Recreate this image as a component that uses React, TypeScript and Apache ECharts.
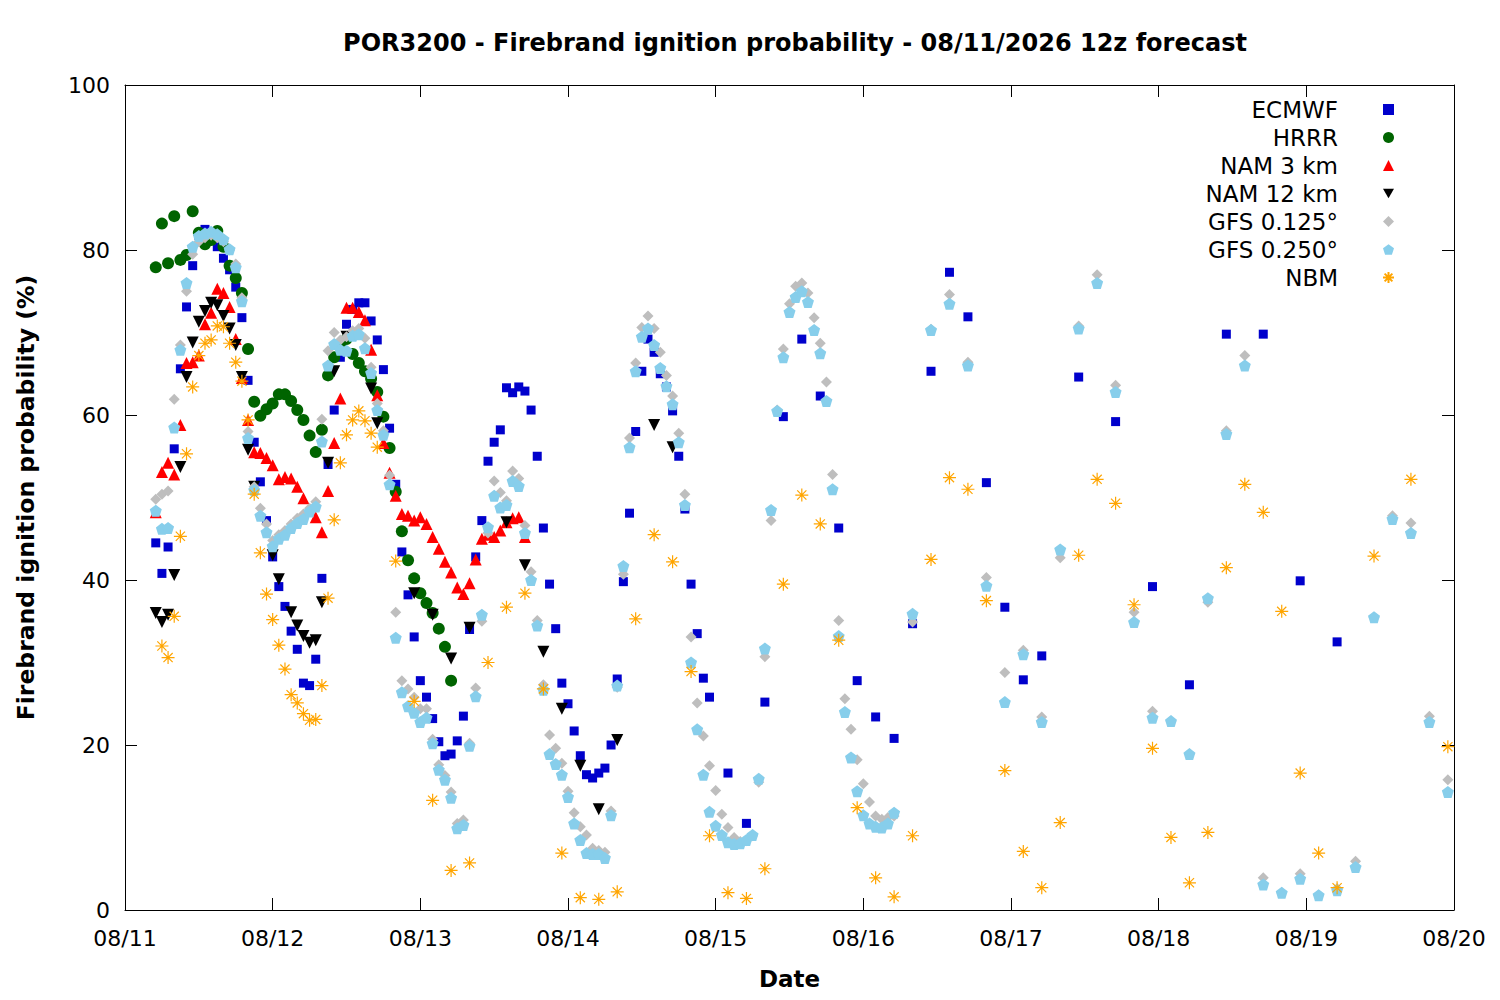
import React, { useEffect, useRef } from 'react';
import * as echarts from 'echarts';

// x = hours since 08/11 00z, y = probability (%)
const dayLabels = ['08/11', '08/12', '08/13', '08/14', '08/15', '08/16', '08/17', '08/18', '08/19', '08/20'];

const ecmwf = [
  [5, 44.5], [6, 40.8], [7, 44], [8, 55.9], [9, 65.6], [10, 73.1], [11, 78.1], [12, 81.8], [13, 82.5], [14, 82],
  [15, 80.4], [16, 79], [17, 77.6], [18, 75.5], [19, 71.8], [20, 64.2], [21, 56.7], [22, 51.9], [23, 47.2], [24, 42.8],
  [25, 39.2], [26, 36.8], [27, 33.8], [28, 31.6], [29, 27.5], [30, 27.2], [31, 30.4], [32, 40.2], [33, 54], [34, 60.6],
  [35, 67], [36, 71], [37, 72.8], [38, 73.6], [39, 73.6], [40, 71.4], [41, 69.1], [42, 65.5], [43, 58.4], [44, 51.6],
  [45, 43.4], [46, 38.2], [47, 33.1], [48, 27.8], [49, 25.8], [50, 23.2], [51, 20.4], [52, 18.7], [53, 18.9], [54, 20.5],
  [55, 23.5], [56, 34], [57, 42.8], [58, 47.2], [59, 54.4], [60, 56.7], [61, 58.2], [62, 63.3], [63, 62.7], [64, 63.4],
  [65, 62.9], [66, 60.6], [67, 55], [68, 46.3], [69, 39.5], [70, 34.1], [71, 27.5], [72, 25], [73, 21.7], [74, 18.7],
  [75, 16.4], [76, 16], [77, 16.6], [78, 17.2], [79, 20], [80, 28], [81, 39.8], [82, 48.1], [83, 58], [84, 65.3],
  [85, 69.2], [86, 67.6], [87, 65], [88, 63.4], [89, 60.5], [90, 55], [91, 48.6], [92, 39.5], [93, 33.5], [94, 28.1],
  [95, 25.8], [98, 16.6], [101, 10.5], [104, 25.2], [107, 59.8], [110, 69.2], [113, 62.3], [116, 46.3], [119, 27.8],
  [122, 23.4], [125, 20.8], [128, 34.7], [131, 65.3], [134, 77.3], [137, 71.9], [140, 51.8], [143, 36.7], [146, 27.9],
  [149, 30.8], [155, 64.6], [161, 59.2], [167, 39.2], [173, 27.3], [179, 69.8], [185, 69.8], [191, 39.9], [197, 32.5],
];

const hrrr = [
  [5, 77.9], [6, 83.2], [7, 78.4], [8, 84.1], [9, 78.8], [10, 79.4], [11, 84.7], [12, 82.1], [13, 80.7], [14, 81.2],
  [15, 82.3], [16, 80.4], [17, 78.1], [18, 76.6], [19, 74.8], [20, 68], [21, 61.6], [22, 59.9], [23, 60.7], [24, 61.4],
  [25, 62.5], [26, 62.5], [27, 61.7], [28, 60.6], [29, 59.4], [30, 57.5], [31, 55.5], [32, 58.2], [33, 64.8], [34, 67],
  [35, 68.5], [36, 69.2], [37, 67.4], [38, 66.3], [39, 65.3], [40, 64.4], [41, 62.8], [42, 59.8], [43, 56], [44, 50.7],
  [45, 45.9], [46, 42.4], [47, 40.2], [48, 38.4], [49, 37.2], [50, 36], [51, 34.1], [52, 31.9], [53, 27.8],
];

const nam3 = [
  [5, 48.2], [6, 53.1], [7, 54.2], [8, 52.8], [9, 58.8], [10, 66.3], [11, 66.4], [12, 67.2], [13, 71], [14, 72.4],
  [15, 75.3], [16, 74.8], [17, 73.1], [18, 69.2], [19, 64.5], [20, 59.4], [21, 55.5], [22, 55.4], [23, 54.8], [24, 53.9],
  [25, 52.2], [26, 52.5], [27, 52.3], [28, 51.3], [29, 49.9], [30, 48.5], [31, 47.6], [32, 45.8], [33, 50.8], [34, 56.6],
  [35, 62], [36, 73], [37, 73], [38, 72.5], [39, 71.5], [40, 67.9], [41, 62.4], [42, 56.6], [43, 53], [44, 50.2],
  [45, 48], [46, 47.8], [47, 47.2], [48, 47.6], [49, 46.8], [50, 45.2], [51, 43.8], [52, 42.2], [53, 40.9], [54, 39.1],
  [55, 38.3], [56, 39.6], [57, 42.5], [58, 45], [59, 45.5], [60, 45.2], [61, 46], [62, 47], [63, 47.5], [64, 47.6],
  [65, 45.2],
];

const nam12 = [
  [5, 36], [6, 34.9], [7, 35.8], [8, 40.6], [9, 53.7], [10, 64.6], [11, 68.8], [12, 71.3], [13, 72.6], [14, 73.6],
  [15, 73.3], [16, 72], [17, 70.5], [18, 68.5], [19, 64.6], [20, 55.8], [21, 51.3], [24, 43], [25, 40.1], [27, 36.1],
  [28, 34.5], [29, 33.2], [30, 32.4], [31, 32.7], [32, 37.3], [33, 54.2], [34, 65.3], [36, 69.5], [40, 63.2], [41, 59],
  [47, 38.4], [50, 35.8], [53, 30.5], [56, 34.2], [62, 47], [65, 41.8], [68, 31.3], [71, 24.4], [74, 17.5], [77, 12.2],
  [80, 20.6], [86, 58.8], [89, 56.1],
];

const gfs0125 = [
  [5, 49.8], [6, 50.4], [7, 50.8], [8, 61.9], [9, 68.5], [10, 75], [11, 79.5], [12, 81], [13, 81.5], [14, 81.8],
  [15, 81.5], [16, 81], [17, 80], [18, 78.3], [19, 74.2], [20, 58], [21, 51.3], [22, 48.7], [23, 46.8], [24, 44.8],
  [25, 45.5], [26, 46], [27, 46.8], [28, 47.5], [29, 48], [30, 48.7], [31, 49.5], [32, 59.5], [33, 67.8], [34, 70],
  [35, 69.1], [36, 69.5], [37, 70.2], [38, 70.5], [39, 69.3], [40, 65.8], [41, 61.4], [42, 58.1], [43, 52.7], [44, 36.1],
  [45, 27.8], [46, 26.8], [47, 25.8], [48, 24.4], [49, 24.4], [50, 20.7], [51, 17.6], [52, 16.3], [53, 14.3], [54, 10.5],
  [55, 10.9], [56, 20.2], [57, 26.9], [58, 35], [59, 45.7], [60, 52], [61, 50.6], [62, 49.6], [63, 53.2], [64, 52.3],
  [65, 46.6], [66, 41], [67, 35.1], [68, 27.3], [69, 21.2], [70, 19.6], [71, 17.8], [72, 14.4], [73, 11.8], [74, 10.1],
  [75, 9.1], [76, 7.5], [77, 7.2], [78, 7], [79, 12], [80, 27], [81, 40.7], [82, 57.2], [83, 66.3], [84, 70.6],
  [85, 72], [86, 70.5], [87, 67.6], [88, 64.8], [89, 62.3], [90, 57.8], [91, 50.4], [92, 33.1], [93, 25.1], [94, 21.1],
  [95, 17.5], [96, 14.5], [97, 11.6], [98, 10], [99, 8.8], [100, 8.3], [101, 8.4], [102, 9], [103, 15.5], [104, 30.7],
  [105, 47.2], [106, 60.6], [107, 68], [108, 73.5], [109, 75.6], [110, 76], [111, 74.8], [112, 71.8], [113, 68.7], [114, 64],
  [115, 52.8], [116, 35.1], [117, 25.6], [118, 21.9], [119, 18.2], [120, 15.3], [121, 13.1], [122, 11.4], [123, 11], [124, 11.2],
  [125, 11.4], [128, 34.9], [131, 70.4], [134, 74.6], [137, 66.4], [140, 40.3], [143, 28.8], [146, 31.5], [149, 23.4], [152, 42.7],
  [155, 70.8], [158, 77], [161, 63.6], [164, 36.1], [167, 24.1], [170, 22.9], [173, 18.9], [176, 37.3], [179, 58.1], [182, 67.2],
  [185, 3.9], [188, 2.1], [191, 4.4], [194, 1.8], [197, 2.6], [200, 5.9], [203, 35.5], [206, 47.8], [209, 46.9], [212, 23.5],
  [215, 15.8],
];

const gfs0250 = [
  [5, 48.4], [6, 46.2], [7, 46.3], [8, 58.5], [9, 67.9], [10, 76], [11, 80.4], [12, 81.7], [13, 82], [14, 82.2],
  [15, 81.9], [16, 81.3], [17, 80.1], [18, 77.9], [19, 73.8], [20, 57.2], [21, 50.9], [22, 47.8], [23, 45.8], [24, 44.1],
  [25, 45], [26, 45.5], [27, 46.3], [28, 46.9], [29, 47.4], [30, 48.3], [31, 48.9], [32, 56.8], [33, 66], [34, 68.6],
  [35, 67.9], [36, 67.8], [37, 69.6], [38, 69.8], [39, 68.1], [40, 65.1], [41, 60.6], [42, 57.6], [43, 51.6], [44, 33],
  [45, 26.4], [46, 24.7], [47, 23.9], [48, 22.8], [49, 23.3], [50, 20.2], [51, 17], [52, 15.8], [53, 13.6], [54, 9.9],
  [55, 10.3], [56, 19.9], [57, 25.9], [58, 35.8], [59, 46.4], [60, 50.2], [61, 48.8], [62, 49.1], [63, 52], [64, 51.4],
  [65, 45.7], [66, 40], [67, 34.5], [68, 26.7], [69, 18.9], [70, 17.7], [71, 16.4], [72, 13.7], [73, 10.5], [74, 8.5],
  [75, 6.9], [76, 6.8], [77, 6.8], [78, 6.3], [79, 11.5], [80, 27.2], [81, 41.7], [82, 56.1], [83, 65.3], [84, 69.5],
  [85, 70.5], [86, 68.5], [87, 65.7], [88, 63.5], [89, 61.3], [90, 56.7], [91, 49.1], [92, 30], [93, 21.9], [94, 16.4],
  [95, 11.9], [96, 10.2], [97, 9.1], [98, 8.2], [99, 8], [100, 8.1], [101, 8.5], [102, 9.1], [103, 15.9], [104, 31.7],
  [105, 48.5], [106, 60.5], [107, 67], [108, 72.5], [109, 74.3], [110, 75], [111, 73.7], [112, 70.3], [113, 67.5], [114, 61.7],
  [115, 51], [116, 33.2], [117, 24], [118, 18.5], [119, 14.4], [120, 11.5], [121, 10.5], [122, 10.1], [123, 10], [124, 10.5],
  [125, 11.8], [128, 35.9], [131, 70.3], [134, 73.5], [137, 66], [140, 39.3], [143, 25.2], [146, 31], [149, 22.8], [152, 43.7],
  [155, 70.5], [158, 76], [161, 62.8], [164, 34.9], [167, 23.3], [170, 22.9], [173, 18.9], [176, 37.8], [179, 57.7], [182, 66],
  [185, 3.1], [188, 2.1], [191, 3.8], [194, 1.8], [197, 2.4], [200, 5.2], [203, 35.5], [206, 47.4], [209, 45.7], [212, 22.8],
  [215, 14.3],
];

const nbm = [
  [6, 32], [7, 30.6], [8, 35.6], [9, 45.3], [10, 55.3], [11, 63.4], [12, 67.2], [13, 68.7], [14, 69.1], [15, 70.8],
  [16, 70.7], [17, 68.7], [18, 66.4], [19, 64.1], [20, 59.4], [21, 50.4], [22, 43.3], [23, 38.3], [24, 35.2], [25, 32.1],
  [26, 29.2], [27, 26.1], [28, 25.1], [29, 23.8], [30, 23], [31, 23.1], [32, 27.2], [33, 37.8], [34, 47.3], [35, 54.2],
  [36, 57.6], [37, 59.4], [38, 60.5], [39, 59.3], [40, 57.8], [41, 56.1], [44, 42.3], [47, 25.3], [50, 13.3], [53, 4.8],
  [56, 5.7], [59, 30], [62, 36.7], [65, 38.4], [68, 26.8], [71, 6.9], [74, 1.5], [77, 1.3], [80, 2.2], [83, 35.3],
  [86, 45.5], [89, 42.2], [92, 28.9], [95, 9], [98, 2.1], [101, 1.4], [104, 5], [107, 39.5], [110, 50.3], [113, 46.8],
  [116, 32.7], [119, 12.4], [122, 3.9], [125, 1.6], [128, 9], [131, 42.5], [134, 52.4], [137, 51], [140, 37.5], [143, 16.9],
  [146, 7.1], [149, 2.7], [152, 10.6], [155, 43], [158, 52.2], [161, 49.3], [164, 37], [167, 19.6], [170, 8.8], [173, 3.3],
  [176, 9.4], [179, 41.5], [182, 51.6], [185, 48.2], [188, 36.2], [191, 16.6], [194, 6.9], [197, 2.7], [203, 42.9], [209, 52.2],
  [215, 19.8],
];

const FONT = 'DejaVu Sans';
const PENTAGON = 'path://M0,-10L9.51,-3.09L5.88,8.09L-5.88,8.09L-9.51,-3.09Z';
const ASTERISK = 'path://M0,-10L0,10M-10,0L10,0M-7.07,-7.07L7.07,7.07M-7.07,7.07L7.07,-7.07';
const DOWN_TRIANGLE = 'path://M0,0L10,0L5,8.66Z';

const scatter = (name: string, data: number[][], symbol: string, size: number, color: string, extra: any = {}) => ({
  name,
  type: 'scatter',
  data,
  symbol,
  symbolSize: size,
  itemStyle: { color, opacity: 1 },
  silent: true,
  ...extra,
});

const App: React.FC = () => {
  const chartRef = useRef<HTMLDivElement>(null);

  useEffect(() => {
    document.body.style.margin = '0';
    if (!chartRef.current) return;
    const chart = echarts.init(chartRef.current, undefined, { renderer: 'svg' });

    // gnuplot-style frame: ticks pointing inwards on all four sides
    const tickAxisX = {
      type: 'value',
      min: 0,
      max: 216,
      interval: 24,
      axisLine: { show: true, onZero: false, lineStyle: { color: '#000', width: 1 } },
      axisTick: { show: true, inside: true, length: 12, lineStyle: { color: '#000' } },
      splitLine: { show: false },
    };
    const tickAxisY = {
      type: 'value',
      min: 0,
      max: 100,
      interval: 20,
      axisLine: { show: true, onZero: false, lineStyle: { color: '#000', width: 1 } },
      axisTick: { show: true, inside: true, length: 12, lineStyle: { color: '#000' } },
      splitLine: { show: false },
    };

    const option: any = {
      animation: false,
      backgroundColor: '#fff',
      title: {
        text: 'POR3200 - Firebrand ignition probability - 08/11/2026 12z forecast',
        left: 790,
        top: 26,
        textAlign: 'center',
        textStyle: { fontFamily: FONT, fontSize: 24, fontWeight: 'bold', color: '#000' },
      },
      grid: { left: 125, right: 46, top: 85, bottom: 90 },
      legend: {
        orient: 'vertical',
        right: 100,
        top: 93,
        align: 'right',
        itemWidth: 11,
        itemHeight: 11,
        itemGap: 5,
        selectedMode: false,
        textStyle: { fontFamily: FONT, fontSize: 23, color: '#000', lineHeight: 23, padding: [0, 40, 0, 0] },
      },
      xAxis: [
        {
          ...tickAxisX,
          position: 'bottom',
          name: 'Date',
          nameLocation: 'middle',
          nameGap: 57,
          nameTextStyle: { fontFamily: FONT, fontSize: 23, fontWeight: 'bold', color: '#000' },
          axisLabel: {
            fontFamily: FONT,
            fontSize: 22,
            color: '#000',
            margin: 17,
            formatter: (v: number) => dayLabels[Math.round(v / 24)],
          },
        },
        { ...tickAxisX, position: 'top', axisLabel: { show: false } },
      ],
      yAxis: [
        {
          ...tickAxisY,
          position: 'left',
          name: 'Firebrand ignition probability (%)',
          nameLocation: 'middle',
          nameGap: 87,
          nameTextStyle: { fontFamily: FONT, fontSize: 23.5, fontWeight: 'bold', color: '#000' },
          axisLabel: { fontFamily: FONT, fontSize: 22, color: '#000', margin: 15 },
        },
        { ...tickAxisY, position: 'right', axisLabel: { show: false } },
      ],
      series: [
        scatter('ECMWF', ecmwf, 'rect', 9, '#0000CC'),
        scatter('HRRR', hrrr, 'circle', 12, '#006400'),
        scatter('NAM 3 km', nam3, 'triangle', 12, '#FF0000'),
        scatter('NAM 12 km', nam12, DOWN_TRIANGLE, 12, '#000000'),
        scatter('GFS 0.125°', gfs0125, 'diamond', 11, '#BEBEBE'),
        scatter('GFS 0.250°', gfs0250, PENTAGON, 12, '#87CEEB'),
        scatter('NBM', nbm, ASTERISK, 13, 'rgba(0,0,0,0)', {
          itemStyle: { color: 'rgba(0,0,0,0)', borderColor: '#FFA500', borderWidth: 1.2, opacity: 1 },
        }),
      ],
    };

    chart.setOption(option);
    return () => chart.dispose();
  }, []);

  return <div ref={chartRef} style={{ width: 1500, height: 1000 }} />;
};

export default App;
